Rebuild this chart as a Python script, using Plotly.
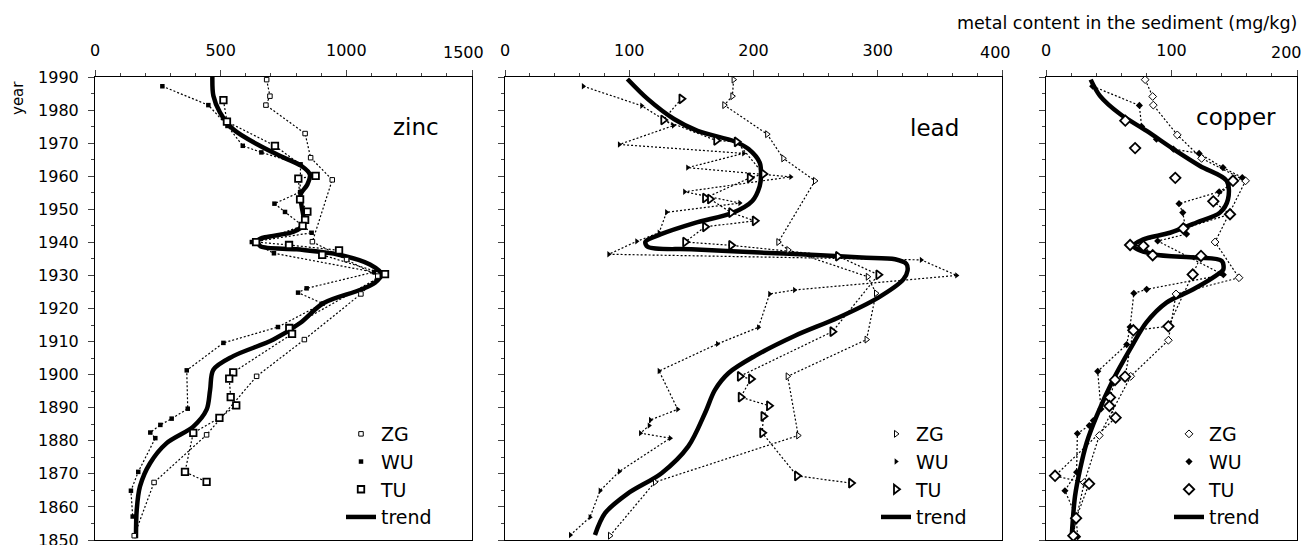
import plotly.graph_objects as go

W, H = 1309, 545
FONT = "DejaVu Sans, Liberation Sans, Arial"

# ---------------- zinc (mg/kg) ----------------
zinc_ticks = [0, 500, 1000, 1500]
zinc_zg_year = [1989.2, 1984.2, 1981.5, 1972.9, 1965.6, 1958.9, 1940.2, 1934.8, 1929.8, 1924.4, 1910.6, 1899.5, 1881.8, 1867.4, 1851.3]
zinc_zg = [683, 696, 680, 836, 858, 944, 865, 1001, 1125, 1058, 833, 643, 444, 235, 156]

zinc_wu_year = [1987.2, 1981.5, 1975.2, 1969.2, 1967.2, 1963.6, 1955.2, 1951.7, 1949.2, 1942.9, 1940.1, 1936.7, 1931.0,
                1926.1, 1924.8, 1921.5, 1914.4, 1909.6, 1901.3, 1889.7, 1886.7, 1884.8, 1882.5, 1880.8, 1870.6, 1864.9, 1857.1]
zinc_wu = [268, 451, 527, 588, 662, 818, 816, 714, 756, 862, 624, 712, 1110,
           842, 808, 906, 728, 511, 365, 369, 305, 260, 220, 240, 172, 143, 150]

zinc_tu_year = [1983.0, 1976.5, 1969.2, 1960.1, 1959.3, 1953.0, 1949.3, 1946.8, 1945.0, 1940.1, 1939.2, 1937.6, 1936.2,
                1930.4, 1914.1, 1912.3, 1900.7, 1898.8, 1893.2, 1890.7, 1886.9, 1882.4, 1870.6, 1867.6]
zinc_tu = [511, 525, 716, 878, 809, 816, 845, 836, 826, 641, 772, 971, 904,
           1154, 773, 784, 550, 534, 540, 562, 495, 391, 358, 444]

zinc_trend_year = [1990, 1984.3, 1979.3, 1974.2, 1969.2, 1965.7, 1963.1, 1960.5, 1957.5, 1954.5, 1951, 1948, 1945.2,
                   1943.2, 1940.7, 1938.9, 1937.9, 1936.4, 1933.3, 1930.3, 1927.8, 1925.6, 1921.6, 1915.6, 1910.6,
                   1905.6, 1901.5, 1895.4, 1889.4, 1884.3, 1879.3, 1873.2, 1866.2, 1859.1, 1850.5]
zinc_trend = [467, 471, 497, 550, 656, 749, 822, 855, 845, 818, 822, 829, 829,
              790, 650, 657, 802, 962, 1094, 1140, 1114, 1054, 908, 816, 710,
              550, 471, 458, 444, 391, 285, 219, 179, 166, 163]

# ---------------- lead (mg/kg) ----------------
lead_ticks = [0, 100, 200, 300, 400]
lead_zg_year = [1989.2, 1984.2, 1981.5, 1972.7, 1965.4, 1958.6, 1940.1, 1937.7, 1929.6, 1924.6, 1910.6, 1899.5, 1881.6, 1867.5, 1851.3]
lead_zg = [184, 183, 176.5, 211, 224, 249.5, 220, 228, 292, 298.6, 291, 227.5, 236, 120.7, 84.5]

lead_wu_year = [1987.2, 1981.3, 1975.3, 1969.6, 1966.9, 1962.6, 1959.8, 1955.3, 1951.9, 1949.1, 1942.9, 1940.3, 1936.4,
                1934.7, 1930.0, 1925.6, 1924.4, 1914.3, 1909.3, 1901.1, 1889.5, 1886.3, 1884.6, 1882.3, 1880.8,
                1870.7, 1864.9, 1856.9, 1851.5]
lead_wu = [63, 110, 135.5, 92, 192, 147, 230, 144.5, 189, 130, 124, 106, 83.5,
           335, 363.5, 233, 213, 204, 171, 124, 139, 117, 116, 109, 133,
           92, 76.5, 68.4, 52.6]

lead_tu_year = [1983.4, 1977.0, 1970.8, 1970.4, 1960.7, 1959.5, 1953.4, 1953.1, 1949.0, 1946.5, 1944.7, 1940.1, 1939.1,
                1935.8, 1930.2, 1913.0, 1899.5, 1898.7, 1893.2, 1890.6, 1887.4, 1882.4, 1869.4, 1867.2]
lead_tu = [142, 127.4, 170, 186.5, 208, 197, 161, 165, 182, 201, 161, 145, 182,
           268, 300.5, 263.5, 189, 198, 189.7, 212.5, 208, 207, 235, 278.5]

lead_trend_year = [1989.4, 1983.3, 1977.3, 1973.7, 1970.5, 1968.2, 1964.1, 1960.1, 1957, 1952.5, 1949, 1945.9, 1942.4,
                   1940.2, 1938.6, 1937.9, 1936.9, 1936.2, 1935.4, 1934.9, 1933.5, 1931.5, 1928.8, 1923.3, 1917.2,
                   1911.7, 1905.6, 1900.5, 1895.4, 1888.4, 1878.3, 1870.2, 1864.1, 1858.1, 1851.5]
lead_trend = [98.5, 115, 136, 155, 185, 196, 205, 206, 205, 199, 183.7, 153, 125,
              113, 115, 150, 205, 250, 287, 314, 323, 324, 320.6, 300.5, 268,
              233, 201, 180, 169, 161, 147.5, 126, 99, 80.5, 72.4]

# ---------------- copper (mg/kg) ----------------
copper_ticks = [0, 100, 200]
copper_zg_year = [1989.2, 1984.1, 1981.5, 1972.5, 1965.4, 1958.6, 1940.1, 1929.3, 1924.4, 1910.4, 1899.5, 1881.6, 1867.4, 1851.3]
copper_zg = [79, 85, 85.5, 104.6, 124, 159, 134.7, 153.8, 103.6, 97.5, 67.5, 42.5, 30.5, 21.2]

copper_wu_year = [1987.2, 1981.4, 1975.0, 1971.2, 1968.2, 1966.9, 1962.6, 1959.6, 1955.3, 1951.7, 1949.0, 1942.5, 1940.4,
                  1930.2, 1925.8, 1924.6, 1914.4, 1909.1, 1901.0, 1889.6, 1886.1, 1884.6, 1882.2, 1870.5, 1864.9,
                  1857.1, 1851.0]
copper_wu = [37.2, 74.4, 76.2, 88, 101.5, 122, 141, 156.4, 138, 106, 109, 112, 89,
             141.3, 80.2, 70, 67, 64.3, 41.2, 43.8, 37.7, 34.5, 25, 24.4, 15.1,
             24, 25.2]

# the three uppermost TU copper samples are plotted as single points
copper_tu_year = [1976.8, None, 1968.5, None, 1959.5, None, 1958.6, 1952.4, 1948.5, 1944.2, 1939.2, 1938.9, 1936.1,
                  1935.9, 1930.3, 1914.6, 1913.4, 1899.4, 1898.4, 1893.1, 1890.5, 1887.0, 1869.4, 1867.0,
                  1856.6, 1851.3]
copper_tu = [63.2, None, 71, None, 103, None, 149, 133.3, 146.6, 109.4, 67, 77.6, 85,
             123.5, 116.9, 97.5, 69.6, 63, 55, 51, 50.5, 55.5, 7.2, 34.3,
             24, 21.8]

copper_trend_year = [1989.2, 1984.3, 1978.8, 1973.7, 1968.2, 1963.1, 1958.6, 1953.0, 1949.0, 1946.0, 1942.9, 1940.9,
                     1938.9, 1936.4, 1935.4, 1934.4, 1931.8, 1930.8, 1925.8, 1921.8, 1915.8, 1907.7, 1898.6, 1887.5,
                     1879.4, 1871.3, 1863.2, 1855.1, 1851.1]
copper_trend = [35.6, 43, 59, 80.2, 101.5, 122.7, 144, 145, 138.6, 120, 98.8, 77.6,
                69.6, 85.5, 120, 140, 141.3, 138.6, 117.4, 96, 80, 67, 53.7, 40.4,
                32.4, 27.1, 23.1, 21.2, 20.5]

panels = [
    dict(name="zinc", ticks=zinc_ticks, minor=100, sym="square",
         sizes=(4.5, 4.5, 6.5),
         zg=(zinc_zg_year, zinc_zg), wu=(zinc_wu_year, zinc_wu), tu=(zinc_tu_year, zinc_tu),
         trend=(zinc_trend_year, zinc_trend), dom=(95, 472), legend_x=341, label=(416, 127),
         end_label_x=463),
    dict(name="lead", ticks=lead_ticks, minor=20, sym="triangle-right",
         sizes=(6, 5.5, 8),
         zg=(lead_zg_year, lead_zg), wu=(lead_wu_year, lead_wu), tu=(lead_tu_year, lead_tu),
         trend=(lead_trend_year, lead_trend), dom=(505, 1002), legend_x=876, label=(934, 128),
         end_label_x=995),
    dict(name="copper", ticks=copper_ticks, minor=20, sym="diamond",
         sizes=(6, 5.5, 8),
         zg=(copper_zg_year, copper_zg), wu=(copper_wu_year, copper_wu), tu=(copper_tu_year, copper_tu),
         trend=(copper_trend_year, copper_trend), dom=(1046, 1297), legend_x=1169, label=(1236, 117),
         end_label_x=1286),
]

PLOT_TOP, PLOT_BOTTOM = 77, 540
TICK_LABEL_Y = 53
dotted = dict(color="black", width=1.2, dash="2px,2px")

fig = go.Figure()
layout = dict(
    width=W, height=H, margin=dict(l=0, r=0, t=0, b=0, autoexpand=False),
    paper_bgcolor="white", plot_bgcolor="white",
    font=dict(family=FONT, size=16, color="black"),
    annotations=[], showlegend=True,
)

for i, p in enumerate(panels):
    k = "" if i == 0 else str(i + 1)
    xa, ya, lg = "x" + k, "y" + k, "legend" + k
    s_zg, s_wu, s_tu = p["sizes"]

    # trend curve (drawn first so the sample markers sit on top)
    fig.add_trace(go.Scatter(
        x=p["trend"][1], y=p["trend"][0], mode="lines", name="trend",
        line=dict(color="black", width=4.5, shape="spline", smoothing=0.9),
        xaxis=xa, yaxis=ya, legend=lg, legendrank=4))

    series = [
        ("ZG", p["zg"], dict(symbol=p["sym"], size=s_zg, color="white", line=dict(color="black", width=1))),
        ("WU", p["wu"], dict(symbol=p["sym"], size=s_wu, color="black", line=dict(color="black", width=0))),
        ("TU", p["tu"], dict(symbol=p["sym"], size=s_tu, color="white", line=dict(color="black", width=1.8))),
    ]
    for nm, (yy, xx), mk in series:
        fig.add_trace(go.Scatter(
            x=xx, y=yy, mode="lines", line=dotted, connectgaps=False,
            showlegend=False, hoverinfo="skip", xaxis=xa, yaxis=ya))
    for rank, (nm, (yy, xx), mk) in enumerate(series, start=1):
        fig.add_trace(go.Scatter(
            x=xx, y=yy, mode="markers", name=nm, marker=mk,
            xaxis=xa, yaxis=ya, legend=lg, legendrank=rank))

    ticks = p["ticks"]
    x0, x1 = p["dom"]
    # the last top label sits just inside the panel edge, so it is placed separately
    layout["xaxis" + k] = dict(
        domain=[x0 / W, x1 / W], range=[ticks[0], ticks[-1]], side="top", anchor=ya,
        tickmode="array", tickvals=ticks, ticktext=[str(t) for t in ticks[:-1]] + [""],
        ticks="outside", ticklen=6, tickwidth=1,
        minor=dict(dtick=p["minor"], tick0=0, ticks="outside", ticklen=3, tickwidth=1),
        showline=True, linecolor="black", linewidth=1, mirror=True,
        showgrid=False, zeroline=False, ticklabelstandoff=8, automargin=False,
        ticklabeloverflow="allow", tickfont=dict(size=16, family=FONT),
    )
    layout["annotations"].append(dict(
        text=str(ticks[-1]), x=p["end_label_x"] / W, y=1 - TICK_LABEL_Y / H,
        xref="paper", yref="paper", xanchor="center", yanchor="middle",
        showarrow=False, font=dict(size=16, family=FONT)))
    layout["yaxis" + k] = dict(
        domain=[1 - PLOT_BOTTOM / H, 1 - PLOT_TOP / H], range=[1850, 1990], anchor=xa,
        dtick=10, tick0=1850, ticks="outside", ticklen=6, tickwidth=1,
        minor=dict(dtick=5, ticks="outside", ticklen=3, tickwidth=1),
        showline=True, linecolor="black", linewidth=1, mirror=True,
        showgrid=False, zeroline=False, showticklabels=(i == 0),
        ticklabelstandoff=6, ticklabeloverflow="allow", automargin=False,
        tickfont=dict(size=16, family=FONT),
    )
    layout[lg] = dict(
        x=p["legend_x"] / W, xanchor="left", y=1 - 415 / H, yanchor="top",
        bgcolor="rgba(0,0,0,0)", font=dict(size=19, family=FONT),
        traceorder="normal", itemsizing="trace", tracegroupgap=0,
    )
    lx, ly = p["label"]
    layout["annotations"].append(dict(
        text=p["name"], x=lx / W, y=1 - ly / H, xref="paper", yref="paper",
        xanchor="center", yanchor="middle", showarrow=False,
        font=dict(size=23, family=FONT)))

layout["annotations"].append(dict(
    text="metal content in the sediment (mg/kg)", x=1299 / W, y=1 - 23 / H,
    xref="paper", yref="paper", xanchor="right", yanchor="middle",
    showarrow=False, font=dict(size=17.5, family=FONT)))
layout["annotations"].append(dict(
    text="year", x=18 / W, y=1 - 98 / H, xref="paper", yref="paper",
    xanchor="center", yanchor="middle", textangle=-90,
    showarrow=False, font=dict(size=15, family=FONT)))

fig.update_layout(**layout)
fig.write_html("out.html")
